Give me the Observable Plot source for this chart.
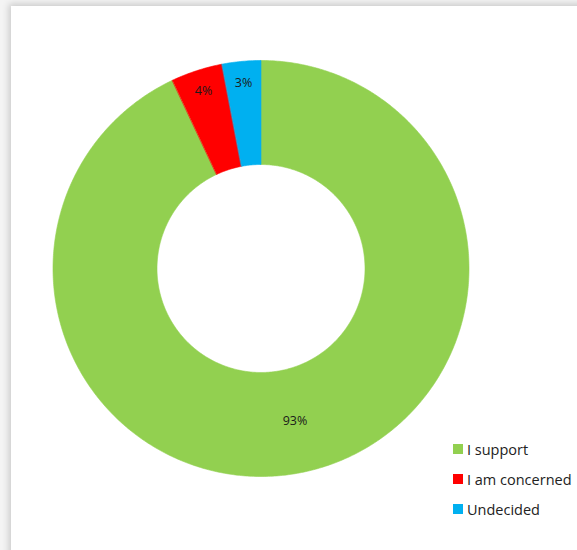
<!DOCTYPE html>
<html>
<head>
<meta charset="utf-8">
<script src="https://cdn.jsdelivr.net/npm/d3@7"></script>
<script src="https://cdn.jsdelivr.net/npm/@observablehq/plot@0.6"></script>
<style>
  html, body { margin: 0; padding: 0; background: #ffffff; overflow: hidden; }
  #page { position: relative; width: 577px; height: 550px; overflow: hidden; background: #f4f4f4; }
  #card { position: absolute; left: 11px; top: 6px; width: 600px; height: 600px; background: #fff;
          box-shadow: 0 0 7px 2px rgba(0,0,0,0.18); }
  #chart { position: absolute; left: 0; top: 0; }
  #legend { position: absolute; left: 453px; top: 440px; font-family: "Open Sans", sans-serif;
            font-size: 14.5px; color: #222; }
  .row { display: flex; align-items: center; height: 30px; margin-top: 0; white-space: nowrap; }
  .row:first-child { margin-top: -6px; }
  .sw { width: 10px; height: 10px; margin-right: 4px; flex: none; }
</style>
</head>
<body>
<div id="page">
  <div id="card"></div>
  <div id="chart"></div>
  <div id="legend"></div>
</div>
<script>
const categories = ["I support", "I am concerned", "Undecided"];
const values = [93, 4, 3];
const labels = ["93%", "4%", "3%"];
const colors = ["#92D050", "#FF0000", "#00B0F0"];

const innerR = 0.5;
const outerR = 1;

const pie = d3.pie().sort(null).value(d => d)(values);

// Build slice polygons in unit coordinates (angle 0 = top, clockwise)
const polys = [];
pie.forEach((p, i) => {
  const n = Math.max(8, Math.ceil((p.endAngle - p.startAngle) / 0.01));
  for (let k = 0; k <= n; k++) {
    const a = p.startAngle + (p.endAngle - p.startAngle) * k / n;
    polys.push({cat: categories[i], x: outerR * Math.sin(a), y: outerR * Math.cos(a)});
  }
  for (let k = n; k >= 0; k--) {
    const a = p.startAngle + (p.endAngle - p.startAngle) * k / n;
    polys.push({cat: categories[i], x: innerR * Math.sin(a), y: innerR * Math.cos(a)});
  }
});

const labelData = pie.map((p, i) => {
  const a = (p.startAngle + p.endAngle) / 2;
  const r = values[i] > 10 ? (innerR + outerR) / 2 : 0.895;
  return {label: labels[i], x: r * Math.sin(a), y: r * Math.cos(a)};
});

const chart = Plot.plot({
  width: 577,
  height: 550,
  style: {background: "transparent", fontFamily: "Open Sans, sans-serif"},
  x: {domain: [-1, 1], range: [52.5, 468.5], axis: null},
  y: {domain: [-1, 1], range: [476, 60], axis: null},
  color: {domain: categories, range: colors},
  marks: [
    Plot.line(polys, {x: "x", y: "y", z: "cat", fill: "cat", stroke: "cat", strokeWidth: 0.6, curve: "linear-closed"}),
    Plot.text(labelData, {x: "x", y: "y", text: "label", fontSize: 12.5, fill: "#1a1a1a"})
  ]
});
document.getElementById("chart").appendChild(chart);

const legend = document.getElementById("legend");
categories.forEach((c, i) => {
  const row = document.createElement("div");
  row.className = "row";
  const sw = document.createElement("div");
  sw.className = "sw";
  sw.style.background = colors[i];
  const t = document.createElement("span");
  t.textContent = c;
  row.appendChild(sw);
  row.appendChild(t);
  legend.appendChild(row);
});
</script>
</body>
</html>
